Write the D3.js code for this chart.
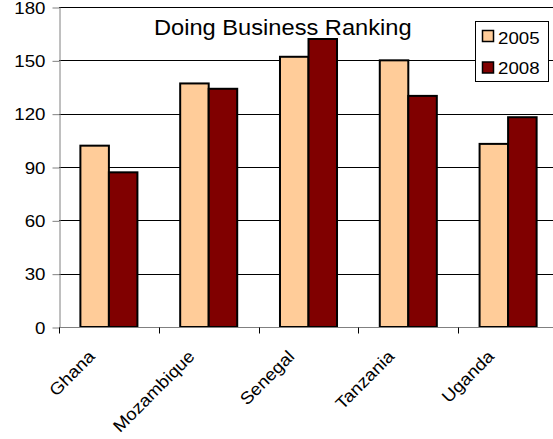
<!DOCTYPE html>
<html>
<head>
<meta charset="utf-8">
<script src="https://cdn.jsdelivr.net/npm/d3@7"></script>
<style>
html,body{margin:0;padding:0;background:#fff;}
svg{display:block;font-family:"Liberation Sans",Arial,sans-serif;}
</style>
</head>
<body>
<svg id="chart" width="553" height="439"></svg>
<script>
const categories = ["Ghana", "Mozambique", "Senegal", "Tanzania", "Uganda"];
const seriesNames = ["2005", "2008"];
const values2005 = [102, 137, 152, 150, 103];
const values2008 = [87, 134, 162, 130, 118];
const yTicks = [0, 30, 60, 90, 120, 150, 180];
const colors = ["#FFCC99", "#800000"];
const titleText = "Doing Business Ranking";

const seriesValues = [values2005, values2008];
const svg = d3.select("#chart");
const W = 553, H = 439;
const pLeft = 59, pRight = 558, pTop = 7, pBottom = 327;
const sx = 1.1;

const x = d3.scaleBand().domain(categories).range([pLeft, pRight]).padding(0);
const x1 = d3.scaleBand().domain(seriesNames).range([0, x.bandwidth()]).paddingInner(0).paddingOuter(0.75);
const y = d3.scaleLinear().domain([0, 180]).range([pBottom, pTop]);

// gridlines
svg.append("g").selectAll("line").data(yTicks.filter(t => t > 0)).join("line")
  .attr("x1", pLeft).attr("x2", W)
  .attr("y1", d => Math.round(y(d)) + 0.5).attr("y2", d => Math.round(y(d)) + 0.5)
  .attr("stroke", "#000").attr("stroke-width", 1);

// bars
const groups = svg.append("g").selectAll("g").data(categories).join("g")
  .attr("transform", d => `translate(${x(d)},0)`);
groups.selectAll("rect").data((d, i) => seriesNames.map((s, j) => ({s, j, v: seriesValues[j][i]})))
  .join("rect")
  .attr("x", d => x1(d.s))
  .attr("width", x1.bandwidth())
  .attr("y", d => y(d.v))
  .attr("height", d => y(0) - y(d.v))
  .attr("fill", d => colors[d.j])
  .attr("stroke", "#000").attr("stroke-width", 2);

// y axis
const yAxis = svg.append("g").attr("transform", `translate(${pLeft + 0.5},0)`)
  .call(d3.axisLeft(y).tickValues(yTicks).tickSize(7).tickSizeOuter(0));
yAxis.select(".domain").attr("stroke", "#808080");
yAxis.selectAll(".tick line").attr("stroke", "#808080")
  .attr("transform", "translate(0,0.5)");
yAxis.selectAll(".tick text")
  .attr("x", null).attr("dy", null)
  .attr("transform", `translate(-14,6) scale(${sx},1)`)
  .attr("font-size", 17).attr("fill", "#000").attr("font-family", "Liberation Sans, Arial, sans-serif");

// x axis
const xAxis = svg.append("g").attr("transform", `translate(0,${pBottom + 0.5})`);
xAxis.append("line").attr("x1", pLeft).attr("x2", W).attr("stroke", "#808080");
xAxis.selectAll("line.tk").data(d3.range(categories.length + 1)).join("line")
  .attr("class", "tk")
  .attr("x1", i => Math.round(pLeft + i * x.step()) + 0.5)
  .attr("x2", i => Math.round(pLeft + i * x.step()) + 0.5)
  .attr("y1", 0).attr("y2", 6).attr("stroke", "#000");
xAxis.selectAll("text").data(categories).join("text")
  .attr("transform", d => `translate(${x(d) + x.bandwidth() / 2 - 13},${30}) rotate(-45) scale(${sx},1)`)
  .attr("text-anchor", "end")
  .attr("font-size", 17)
  .text(d => d);

// title
svg.append("text")
  .attr("transform", `translate(154,35) scale(${sx},1)`)
  .attr("font-size", 21.5)
  .text(titleText);

// legend
const lg = svg.append("g").attr("transform", "translate(475.5,21.5)");
lg.append("rect").attr("width", 73).attr("height", 60).attr("fill", "#fff").attr("stroke", "#000");
seriesNames.forEach((s, i) => {
  lg.append("rect").attr("x", 7).attr("y", 9 + i * 31.5).attr("width", 11).attr("height", 11)
    .attr("fill", colors[i]).attr("stroke", "#000").attr("stroke-width", 1.5);
  lg.append("text").attr("transform", `translate(22.5,${22 + i * 30}) scale(${sx},1)`)
    .attr("font-size", 17).text(s);
});
</script>
</body>
</html>
